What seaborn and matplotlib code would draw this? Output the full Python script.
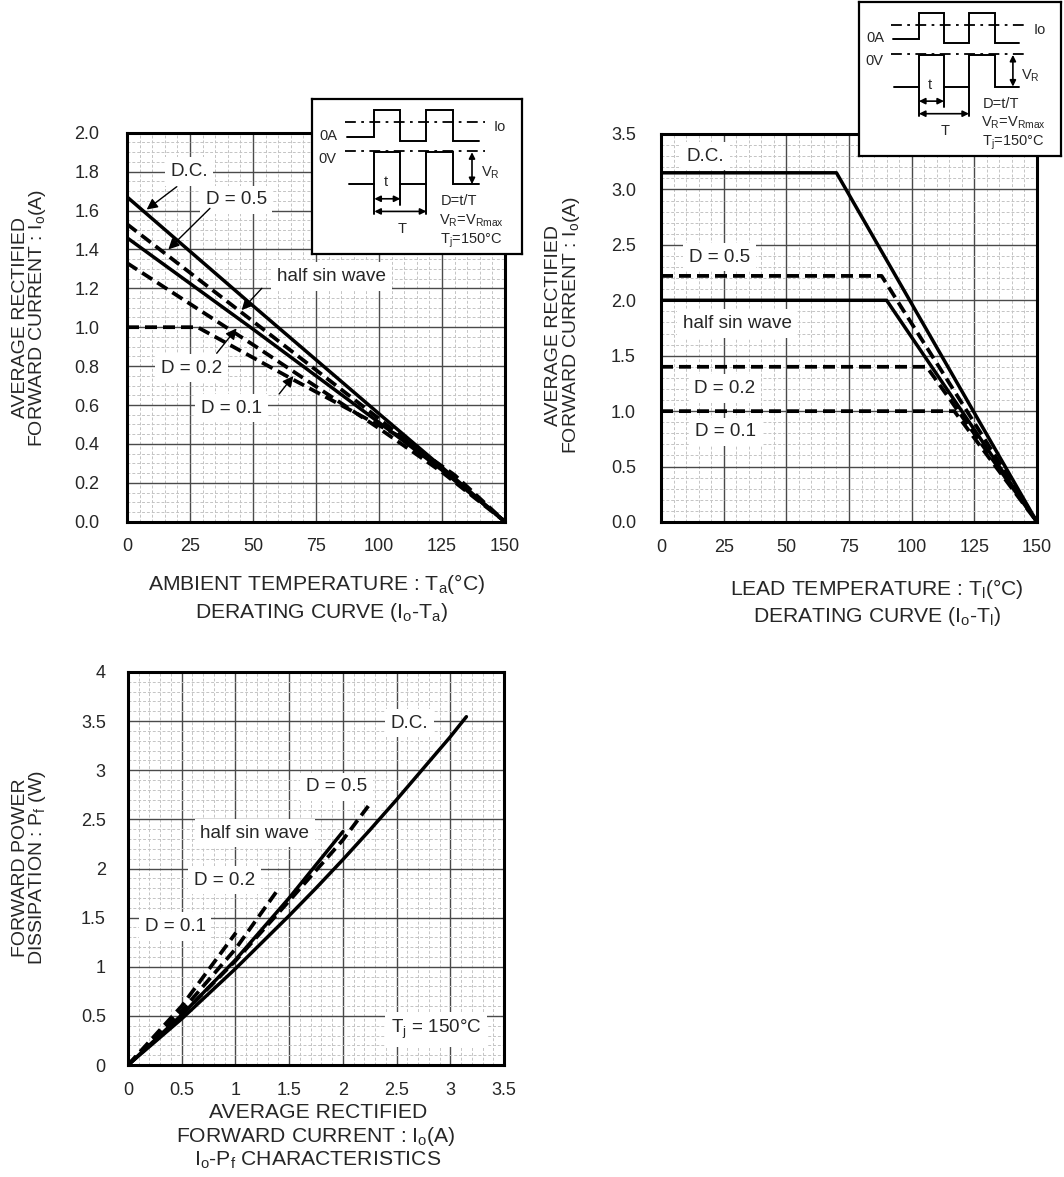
import numpy as np
import pandas as pd
import matplotlib
matplotlib.use("Agg")
import matplotlib.pyplot as plt
import seaborn as sns
from matplotlib.ticker import MultipleLocator, AutoMinorLocator, FixedLocator, FixedFormatter

sns.set_style("white")
plt.rcParams["font.family"] = ["Liberation Sans", "DejaVu Sans"]
plt.rcParams["mathtext.default"] = "regular"

W, H = 1064, 1177

# ---------------- data : Io - Ta derating ----------------
ta_dc = [0, 50, 100, 125, 150]
io_ta_dc = [1.67, 1.11, 0.555, 0.28, 0.0]
ta_d05 = [0, 50, 100, 125, 150]
io_ta_d05 = [1.53, 1.03, 0.53, 0.27, 0.0]
ta_half = [0, 50, 100, 125, 150]
io_ta_half = [1.46, 0.99, 0.51, 0.265, 0.0]
ta_d02 = [0, 50, 100, 125, 150]
io_ta_d02 = [1.33, 0.91, 0.48, 0.255, 0.0]
ta_d01 = [0, 28, 66, 108, 130, 150]
io_ta_d01 = [1.0, 1.0, 0.73, 0.44, 0.24, 0.0]

# ---------------- data : Io - Tl derating ----------------
tl_dc = [0, 70, 150]
io_tl_dc = [3.15, 3.15, 0.0]
tl_d05 = [0, 88, 150]
io_tl_d05 = [2.22, 2.22, 0.0]
tl_half = [0, 90, 150]
io_tl_half = [2.0, 2.0, 0.0]
tl_d02 = [0, 106, 150]
io_tl_d02 = [1.4, 1.4, 0.0]
tl_d01 = [0, 117, 150]
io_tl_d01 = [1.0, 1.0, 0.0]

# ---------------- data : Io - Pf ----------------
io_dc = [0, 0.5, 1.0, 1.5, 1.75, 2.0, 2.25, 2.5, 2.75, 3.0, 3.15]
pf_dc = [0, 0.47, 0.98, 1.52, 1.80, 2.09, 2.39, 2.70, 3.02, 3.34, 3.545]
io_d05 = [0, 0.5, 1.0, 1.5, 2.0, 2.237]
pf_d05 = [0, 0.51, 1.06, 1.67, 2.29, 2.636]
io_half = [0, 0.5, 1.0, 1.5, 2.0]
pf_half = [0, 0.51, 1.07, 1.70, 2.375]
io_d02 = [0, 0.5, 1.0, 1.409]
pf_d02 = [0, 0.55, 1.18, 1.805]
io_d01 = [0, 0.5, 1.005]
pf_d01 = [0, 0.6, 1.347]

# tick labels
p1_xticks = [0, 25, 50, 75, 100, 125, 150]
p1_yticks = [0.0, 0.2, 0.4, 0.6, 0.8, 1.0, 1.2, 1.4, 1.6, 1.8, 2.0]
p2_yticks = [0.0, 0.5, 1.0, 1.5, 2.0, 2.5, 3.0, 3.5]
p3_xticks = [0, 0.5, 1, 1.5, 2, 2.5, 3, 3.5]
p3_xlabels = ["0", "0.5", "1", "1.5", "2", "2.5", "3", "3.5"]
p3_yticks = [0, 0.5, 1, 1.5, 2, 2.5, 3, 3.5, 4]
p3_ylabels = ["0", "0.5", "1", "1.5", "2", "2.5", "3", "3.5", "4"]

fig = plt.figure(figsize=(W / 100, H / 100), dpi=100)
fig.patch.set_facecolor("white")

XL_FS = 15.2
YL_FS = 14.0


def add_ax(l, t, r, b):
    return fig.add_axes([l / W, 1 - b / H, (r - l) / W, (b - t) / H])


def setup(ax, xmax, ymax, xt, yt, xn, yn, xl=None, yl=None, xpad=12, ypad=14):
    ax.set_xlim(0, xmax)
    ax.set_ylim(0, ymax)
    ax.xaxis.set_major_locator(FixedLocator(xt))
    ax.yaxis.set_major_locator(FixedLocator(yt))
    if xl is not None:
        ax.xaxis.set_major_formatter(FixedFormatter(xl))
    if yl is not None:
        ax.yaxis.set_major_formatter(FixedFormatter(yl))
    ax.xaxis.set_minor_locator(AutoMinorLocator(xn))
    ax.yaxis.set_minor_locator(AutoMinorLocator(yn))
    ax.grid(which="major", color="#4a4a4a", lw=1.0)
    ax.grid(which="minor", color="#c4c4c4", lw=0.7, linestyle=(0, (3, 2)))
    ax.set_axisbelow(True)
    for s in ax.spines.values():
        s.set_visible(True)
        s.set_color("black")
        s.set_linewidth(2.2)
    ax.tick_params(axis="x", which="both", length=0, labelsize=13, pad=xpad)
    ax.tick_params(axis="y", which="both", length=0, labelsize=13, pad=ypad)
    ax.set_xlabel("")
    ax.set_ylabel("")


def curve(ax, x, y, dashed):
    sns.lineplot(x=x, y=y, ax=ax, color="black", lw=2.5, sort=False,
                 estimator=None, zorder=5)
    ln = ax.lines[-1]
    ln.set_solid_joinstyle("round")
    if dashed:
        ln.set_linestyle((0, (3.2, 1.6)))
        ln.set_linewidth(2.7)


BOX = dict(boxstyle="square,pad=0.3", fc="white", ec="none")


def label(ax, s, x, y, fs=13.6):
    ax.text(x, y, s, ha="center", va="center", fontsize=fs, bbox=BOX, zorder=4)


def arrow(ax, start, tip):
    ax.annotate("", xy=tip, xytext=start,
                arrowprops=dict(arrowstyle="-|>", color="black", lw=1.0,
                                mutation_scale=16, shrinkA=0, shrinkB=0),
                zorder=6)


def ftext(x, y, s, rot=0, fs=13.5):
    fig.text(x / W, 1 - y / H, s, ha="center", va="center", rotation=rot, fontsize=fs)


# ---------------- panel 1 ----------------
ax1 = add_ax(127, 132.7, 505, 521.7)
curve(ax1, ta_dc, io_ta_dc, False)
curve(ax1, ta_d05, io_ta_d05, True)
curve(ax1, ta_half, io_ta_half, False)
curve(ax1, ta_d02, io_ta_d02, True)
curve(ax1, ta_d01, io_ta_d01, True)
setup(ax1, 150, 2.0, p1_xticks, p1_yticks, 5, 4,
      yl=[f"{v:.1f}" for v in p1_yticks], xpad=12, ypad=20)
label(ax1, "D.C.", 24.6, 1.80)
arrow(ax1, (19.7, 1.722), (7.8, 1.605))
label(ax1, "D = 0.5", 43.3, 1.654)
arrow(ax1, (32.9, 1.611), (16.4, 1.40))
label(ax1, "half sin wave", 81.2, 1.26)
arrow(ax1, (53.5, 1.20), (45.5, 1.088))
label(ax1, "D = 0.2", 25.7, 0.789)
arrow(ax1, (35.6, 0.866), (43.5, 0.994))
label(ax1, "D = 0.1", 41.5, 0.583)
arrow(ax1, (60.4, 0.657), (66.0, 0.749))

ftext(21, 318, "AVERAGE RECTIFIED", rot=90, fs=YL_FS)
ftext(38, 318, "FORWARD CURRENT : I$_o$(A)", rot=90, fs=YL_FS)
ftext(317, 584, "AMBIENT TEMPERATURE : T$_a$($\\degree$C)", fs=XL_FS)
ftext(322, 612, "DERATING CURVE (I$_o$-T$_a$)", fs=XL_FS)

# ---------------- panel 2 ----------------
ax2 = add_ax(661, 134, 1037, 522)
curve(ax2, tl_dc, io_tl_dc, False)
curve(ax2, tl_d05, io_tl_d05, True)
curve(ax2, tl_half, io_tl_half, False)
curve(ax2, tl_d02, io_tl_d02, True)
curve(ax2, tl_d01, io_tl_d01, True)
setup(ax2, 150, 3.5, p1_xticks, p2_yticks, 5, 5,
      yl=[f"{v:.1f}" for v in p2_yticks], xpad=12, ypad=18)
label(ax2, "D.C.", 17.6, 3.30)
label(ax2, "D = 0.5", 23.3, 2.39)
label(ax2, "half sin wave", 30.4, 1.79)
label(ax2, "D = 0.2", 25.5, 1.204)
label(ax2, "D = 0.1", 25.9, 0.813)

ftext(554, 325, "AVERAGE RECTIFIED", rot=90, fs=YL_FS)
ftext(572, 325, "FORWARD CURRENT : I$_o$(A)", rot=90, fs=YL_FS)
ftext(877, 589, "LEAD TEMPERATURE : T$_l$($\\degree$C)", fs=XL_FS)
ftext(877, 617, "DERATING CURVE (I$_o$-T$_l$)", fs=XL_FS)

# ---------------- panel 3 ----------------
ax3 = add_ax(128, 672, 504, 1065)
curve(ax3, io_dc, pf_dc, False)
curve(ax3, io_d05, pf_d05, True)
curve(ax3, io_half, pf_half, False)
curve(ax3, io_d02, pf_d02, True)
curve(ax3, io_d01, pf_d01, True)
setup(ax3, 3.5, 4.0, p3_xticks, p3_yticks, 5, 5, xl=p3_xlabels, yl=p3_ylabels,
      xpad=12, ypad=16)
label(ax3, "D.C.", 2.62, 3.48)
label(ax3, "D = 0.5", 1.94, 2.83)
label(ax3, "half sin wave", 1.18, 2.36)
label(ax3, "D = 0.2", 0.90, 1.88)
label(ax3, "D = 0.1", 0.44, 1.41)
label(ax3, "T$_j$ = 150$\\degree$C", 2.87, 0.36)

ftext(21, 868, "FORWARD POWER", rot=90, fs=YL_FS)
ftext(38, 868, "DISSIPATION : P$_f$ (W)", rot=90, fs=YL_FS)
ftext(318, 1113, "AVERAGE RECTIFIED", fs=XL_FS)
ftext(316, 1137, "FORWARD CURRENT : I$_o$(A)", fs=XL_FS)
ftext(318, 1160, "I$_o$-P$_f$ CHARACTERISTICS", fs=XL_FS)


# ---------------- waveform insets ----------------
def inset(l, t, r, b):
    ax = fig.add_axes([l / W, 1 - b / H, (r - l) / W, (b - t) / H], zorder=20)
    ax.set_xlim(35, 665)
    ax.set_ylim(478, 12)
    ax.set_xticks([])
    ax.set_yticks([])
    ax.set_facecolor("white")
    for s in ax.spines.values():
        s.set_visible(True)
        s.set_color("black")
        s.set_linewidth(1.6)
    k = dict(color="black", lw=1.4, solid_joinstyle="miter")
    dd = dict(color="black", lw=1.3, linestyle=(0, (6, 3, 1.5, 3)))
    ax.plot([135, 555], [82, 82], **dd)
    ax.plot([135, 555], [168, 168], **dd)
    ax.plot([140, 222, 222, 300, 300, 378, 378, 458, 458, 535],
            [125, 125, 45, 45, 137, 137, 45, 45, 137, 137], **k)
    ax.plot([145, 222, 222, 300, 300, 378, 378, 458, 458, 535],
            [268, 268, 172, 172, 268, 268, 172, 172, 268, 268], **k)
    ax.plot([222, 222], [268, 358], **k)
    ax.plot([300, 300], [268, 330], **k)
    ax.plot([378, 378], [268, 358], **k)
    ap = dict(arrowstyle="<|-|>", color="black", lw=1.2, mutation_scale=9,
              shrinkA=0, shrinkB=0)
    ax.annotate("", xy=(300, 312), xytext=(222, 312), arrowprops=ap)
    ax.annotate("", xy=(378, 350), xytext=(222, 350), arrowprops=ap)
    ax.annotate("", xy=(515, 172), xytext=(515, 268), arrowprops=ap)
    fs = 10.5
    ax.text(85, 122, "0A", ha="center", va="center", fontsize=fs)
    ax.text(82, 192, "0V", ha="center", va="center", fontsize=fs)
    ax.text(598, 97, "Io", ha="center", va="center", fontsize=fs)
    ax.text(255, 262, "t", ha="center", va="center", fontsize=fs)
    ax.text(305, 402, "T", ha="center", va="center", fontsize=fs)
    ax.text(570, 235, "V$_R$", ha="center", va="center", fontsize=fs)
    ax.text(420, 320, "D=t/T", ha="left", va="center", fontsize=fs)
    ax.text(415, 378, "V$_R$=V$_{Rmax}$", ha="left", va="center", fontsize=fs)
    ax.text(418, 437, "T$_j$=150$\\degree$C", ha="left", va="center", fontsize=fs)


inset(312, 99, 522, 254)
inset(859, 2, 1061, 156)

fig.savefig("out.png", dpi=100, facecolor="white")
